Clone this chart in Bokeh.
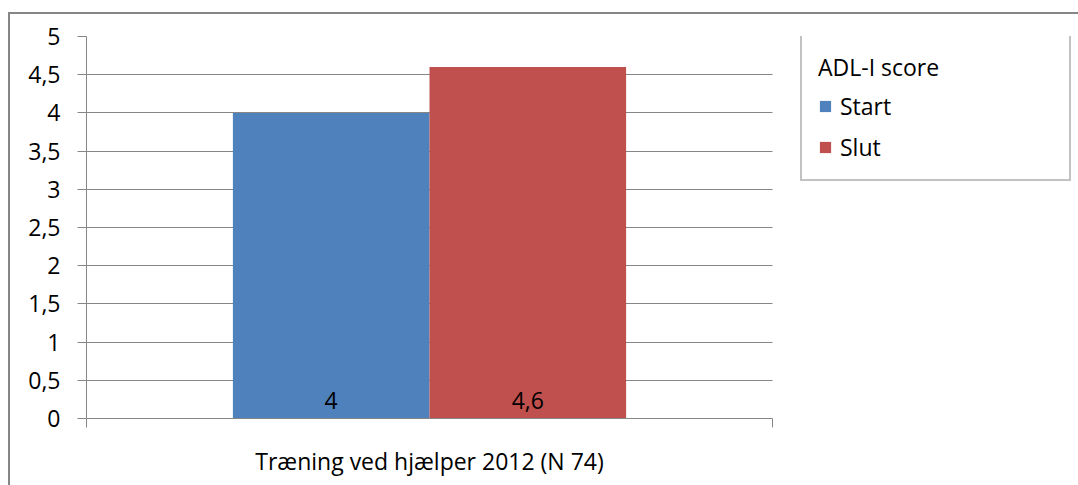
from bokeh.plotting import figure
from bokeh.models import Range1d, FixedTicker, Legend, LegendItem, ColumnDataSource, Grid
from bokeh.core.properties import value
from bokeh.transform import dodge
from bokeh.embed import file_html
from bokeh.resources import INLINE

# ---- data ----
categories = ["Træning ved hjælper 2012 (N 74)"]
series_names = ["Start", "Slut"]
start_values = [4.0]
slut_values = [4.6]
y_ticks = [0, 0.5, 1, 1.5, 2, 2.5, 3, 3.5, 4, 4.5, 5]
y_tick_labels = ["0", "0,5", "1", "1,5", "2", "2,5", "3", "3,5", "4", "4,5", "5"]
legend_title = "ADL-I score"

# ---- style / layout ----
FONT = "Open Sans"
FS = "23px"
BLUE = "#4F81BD"
RED = "#C0504D"
GRID = "#868686"
BAR_W = 0.2866
OFF = 0.1433
W, H = 1078, 485
PLOT_L, PLOT_R = 86, 772          # plot-area pixel extent
# the frame also holds the legend area to the right of the plot area
x_end = -0.5 + len(categories) * (W - PLOT_L) / (PLOT_R - PLOT_L)


def fmt(v):
    return ("%g" % v).replace(".", ",")


x_pos = list(range(len(categories)))
src = ColumnDataSource(dict(
    x=x_pos,
    start=start_values,
    slut=slut_values,
    start_lbl=[fmt(v) for v in start_values],
    slut_lbl=[fmt(v) for v in slut_values],
    zero=[0] * len(categories),
))

p = figure(width=W, height=H, output_backend="svg", toolbar_location=None,
           x_range=Range1d(-0.5, x_end), y_range=Range1d(0, 5),
           min_border_left=PLOT_L, min_border_right=0, min_border_top=36,
           min_border_bottom=67)
p.outline_line_color = None
p.background_fill_color = "white"
p.border_fill_color = None
# outer chart border (left and top edges visible in the window)
p.styles = {
    "background": ("linear-gradient(#868686,#868686) 8px 12px / 2px 100% no-repeat, "
                   "linear-gradient(#868686,#868686) 8px 12px / 100% 2px no-repeat, white"),
}

r_start = p.vbar(x=dodge("x", -OFF), top="start", width=BAR_W, source=src,
                 fill_color=BLUE, line_color=None)
r_slut = p.vbar(x=dodge("x", OFF), top="slut", width=BAR_W, source=src,
                fill_color=RED, line_color=None)

p.text(x=dodge("x", -OFF), y="zero", text="start_lbl", source=src,
       text_font=value(FONT), text_font_size=value(FS), text_align="center",
       text_baseline="alphabetic", y_offset=-18, text_color="black")
p.text(x=dodge("x", OFF), y="zero", text="slut_lbl", source=src,
       text_font=value(FONT), text_font_size=value(FS), text_align="center",
       text_baseline="alphabetic", y_offset=-18, text_color="black")

# y axis
p.yaxis.ticker = FixedTicker(ticks=y_ticks)
p.yaxis.major_label_overrides = dict(zip(y_ticks, y_tick_labels))
p.yaxis.minor_tick_line_color = None
p.yaxis.major_tick_in = 0
p.yaxis.major_tick_out = 9
p.yaxis.major_tick_line_color = GRID
p.yaxis.axis_line_color = GRID
p.yaxis.major_label_standoff = 17
p.yaxis.major_label_text_font = FONT
p.yaxis.major_label_text_font_size = FS
p.yaxis.major_label_text_color = "black"

# x axis: category label at centre, tick marks at category boundaries
centres = x_pos
bounds = [i - 0.5 for i in range(len(categories) + 1)]
p.xaxis.ticker = FixedTicker(ticks=centres, minor_ticks=bounds)
p.xaxis.major_label_overrides = dict(zip(centres, categories))
p.xaxis.bounds = (bounds[0], bounds[-1])
p.xaxis.major_tick_in = 0
p.xaxis.major_tick_out = 0
p.xaxis.minor_tick_in = 0
p.xaxis.minor_tick_out = 9
p.xaxis.minor_tick_line_color = GRID
p.xaxis.axis_line_color = GRID
p.xaxis.major_label_standoff = 17
p.xaxis.major_label_text_font = FONT
p.xaxis.major_label_text_font_size = FS
p.xaxis.major_label_text_color = "black"

p.xgrid.grid_line_color = None
p.ygrid.grid_line_color = GRID
p.ygrid.grid_line_alpha = 1.0
if "cross_bounds" in Grid.properties():
    p.ygrid.cross_bounds = (bounds[0], bounds[-1])

# legend
legend = Legend(items=[LegendItem(label=series_names[0], renderers=[r_start]),
                       LegendItem(label=series_names[1], renderers=[r_slut])],
                title=legend_title, location=(800 - PLOT_L, 237))
legend.title_text_font = FONT
legend.title_text_font_size = FS
legend.title_text_font_style = "normal"
legend.title_text_color = "black"
legend.title_standoff = 7
legend.label_text_font = FONT
legend.label_text_font_size = FS
legend.label_text_color = "black"
legend.glyph_width = 14
legend.glyph_height = 14
legend.label_height = 32
legend.label_standoff = 8
legend.label_width = 213
legend.spacing = 9
legend.padding = 16
legend.margin = 0
legend.border_line_color = GRID
legend.border_line_width = 2
legend.background_fill_color = "white"
p.add_layout(legend, "center")

open("out.html", "w").write(file_html(p, INLINE))
